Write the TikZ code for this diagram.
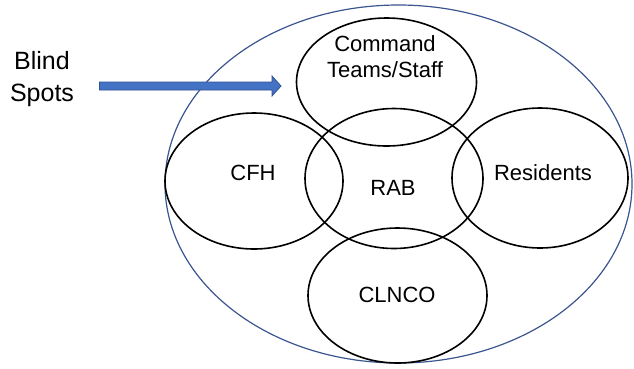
\documentclass[tikz,border=0pt]{standalone}
\usepackage{fontspec}
\setmainfont{Liberation Sans}
\usetikzlibrary{shapes.geometric}
\definecolor{outerblue}{HTML}{3B5590}
\definecolor{arrowfill}{HTML}{4472C4}
\definecolor{arrowline}{HTML}{2F528F}
\begin{document}
\begin{tikzpicture}[x=1pt,y=-1pt,
  circ/.style={ellipse, draw=black, line width=1.6pt, inner sep=0pt},
  lbl/.style={font=\fontsize{22}{26}\selectfont, inner sep=0pt, align=center}]
\useasboundingbox (0,0) rectangle (634,368);
\node[ellipse, draw=outerblue, line width=1.2pt, minimum width=467pt, minimum height=358pt, inner sep=0pt] (outer) at (398.5,184) {};
\node[circ, minimum width=180pt, minimum height=128pt] (cmd) at (386.5,82) {};
\node[circ, minimum width=178pt, minimum height=136pt] (cfh) at (254,181) {};
\node[circ, minimum width=178pt, minimum height=140pt] (rab) at (394,178.5) {};
\node[circ, minimum width=176pt, minimum height=140pt] (res) at (540,178) {};
\node[circ, minimum width=179pt, minimum height=135pt] (clnco) at (397.5,295.5) {};
\node[lbl] (tcmd) at (385,57) {Command\\Teams/Staff};
\node[lbl] (tcfh) at (253,173) {CFH};
\node[lbl] (trab) at (393,188) {RAB};
\node[lbl] (tres) at (543,173) {Residents};
\node[lbl] (tclnco) at (397,295) {CLNCO};
\node[font=\fontsize{25}{32}\selectfont, inner sep=0pt, align=center] (blind) at (42,79) {Blind\\Spots};
\coordinate (tip) at (281,86);
\fill[arrowfill, draw=arrowline, line width=0.8pt]
  (99.5,82) -- (272,82) -- (272,76) -- (tip) -- (272,96) -- (272,90) -- (99.5,90) -- cycle;
\end{tikzpicture}
\end{document}
